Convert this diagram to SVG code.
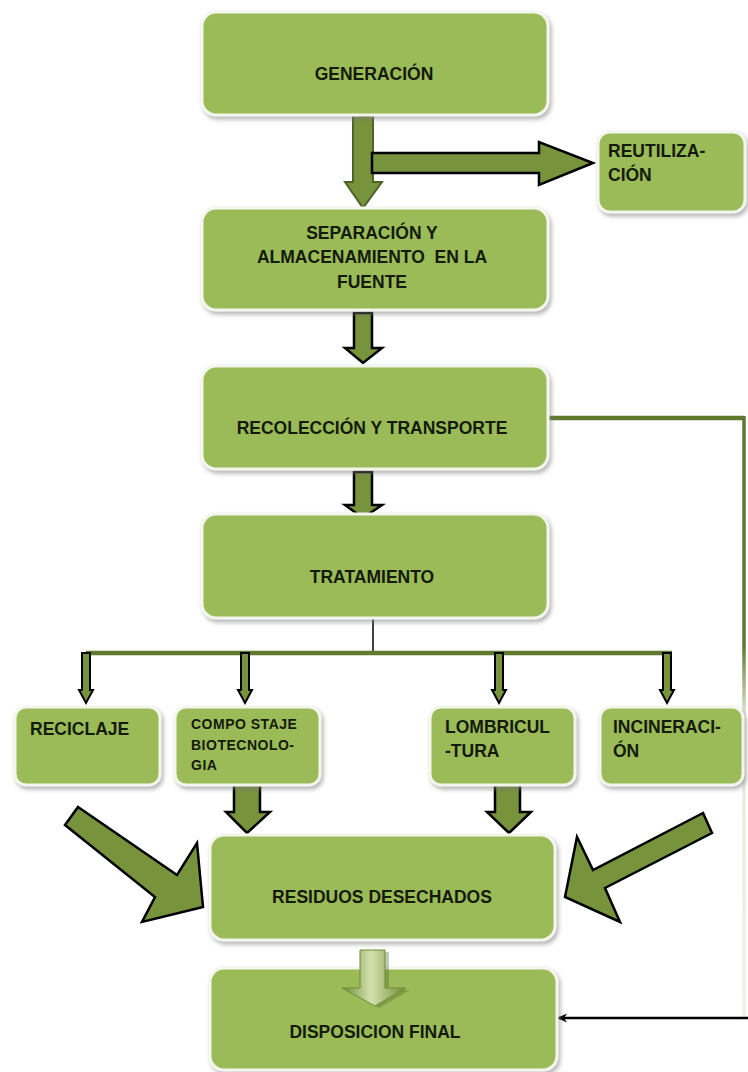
<svg xmlns="http://www.w3.org/2000/svg" width="748" height="1072" viewBox="0 0 748 1072">
<defs>
<style>
.box{fill:#9BBB59;stroke:#f4f6ee;stroke-width:3;filter:url(#sh)}
.t{font-family:"Liberation Sans",Arial,sans-serif;font-weight:bold;font-size:17.5px;fill:#141a0c}
.ts{font-family:"Liberation Sans",Arial,sans-serif;font-weight:bold;font-size:14px;letter-spacing:0.5px;fill:#141a0c}
.c{text-anchor:middle}
.ba{fill:#77933C;stroke:#000;stroke-width:2.5;stroke-linejoin:miter}
.ga{fill:#77933C;stroke:#4F6228;stroke-width:2}
.sa{fill:#77933C;stroke:#000;stroke-width:2}
</style>
<filter id="sh" x="-10%" y="-10%" width="125%" height="130%">
<feDropShadow dx="2" dy="3" stdDeviation="2" flood-color="#7a7a7a" flood-opacity="0.55"/>
</filter>
<linearGradient id="vg" gradientUnits="userSpaceOnUse" x1="0" y1="418" x2="0" y2="1018">
<stop offset="0" stop-color="#5f7a2e"/>
<stop offset="0.38" stop-color="#5f7a2e"/>
<stop offset="0.5" stop-color="#e6ebdc"/>
<stop offset="1" stop-color="#eef1e8"/>
</linearGradient>
<linearGradient id="ag" x1="0" y1="0" x2="1" y2="0">
<stop offset="0" stop-color="#6f8b34"/>
<stop offset="0.45" stop-color="#d3e2b0"/>
<stop offset="1" stop-color="#6f8b34"/>
</linearGradient>
<marker id="bh" markerWidth="10" markerHeight="10" refX="9" refY="5" orient="auto" markerUnits="userSpaceOnUse">
<path d="M10,5 L0,0.5 L3,5 L0,9.5 Z" fill="#000"/>
</marker>
</defs>

<g id="connectors">
<polygon class="ga" points="353,116 373,116 373,182 382,182 363,208 345,182 353,182"/>
<polygon class="ba" points="372,153 539,153 539,142 593,163 539,185 539,173 372,173"/>
<polygon class="ba" points="354,313 372,313 372,348 382,348 363,363 345,348 354,348"/>
<polygon class="ba" points="354,472 372,472 372,505 382,505 363,518 345,505 354,505"/>
<line x1="373" y1="618" x2="373" y2="653" stroke="#000" stroke-width="1.5"/>
<line x1="86" y1="653" x2="672" y2="653" stroke="#5f7a2e" stroke-width="4.5"/>
<polygon class="sa" points="82,653 90,653 90,690 93,690 86,703 79,690 82,690"/>
<polygon class="sa" points="241,653 249,653 249,690 252,690 245,703 238,690 241,690"/>
<polygon class="sa" points="495,653 503,653 503,690 506,690 499,703 492,690 495,690"/>
<polygon class="sa" points="663,653 671,653 671,690 674,690 667,703 660,690 663,690"/>
<polygon class="ba" points="234,785 260,785 260,812 270,812 247,833 226,812 234,812"/>
<polygon class="ba" points="495,785 520,785 520,812 531,812 509,833 487,812 495,812"/>
<polygon class="ba" points="78,807 177,875 197,843 203,907 142,922 155,897 65,825"/>
<polygon class="ba" points="703,813 593,870 577,837 565,897 620,922 605,888 712,833"/>
<polyline points="548,418 744,418" fill="none" stroke="#5f7a2e" stroke-width="4.5"/>
<line x1="744" y1="416" x2="744" y2="1018" stroke="url(#vg)" stroke-width="3.5"/>
<line x1="748" y1="1018" x2="558" y2="1018" stroke="#000" stroke-width="2.5" marker-end="url(#bh)"/>
</g>

<g id="n-generacion">
<rect class="box" x="202" y="12" width="346" height="103" rx="14"/>
<text class="t c" x="374" y="80">GENERACIÓN</text>
</g>
<g id="n-reutilizacion">
<rect class="box" x="598" y="132" width="147" height="80" rx="12"/>
<text class="t" x="608" y="157">REUTILIZA-</text>
<text class="t" x="608" y="181">CIÓN</text>
</g>
<g id="n-separacion">
<rect class="box" x="202" y="208" width="346" height="102" rx="14"/>
<text class="t c" x="372" y="239">SEPARACIÓN Y</text>
<text class="t c" x="372" y="263" xml:space="preserve">ALMACENAMIENTO  EN LA</text>
<text class="t c" x="372" y="288">FUENTE</text>
</g>
<g id="n-recoleccion">
<rect class="box" x="202" y="366" width="346" height="103" rx="14"/>
<text class="t c" x="372" y="434">RECOLECCIÓN Y TRANSPORTE</text>
</g>
<g id="n-tratamiento">
<rect class="box" x="202" y="514" width="346" height="104" rx="14"/>
<text class="t c" x="372" y="583">TRATAMIENTO</text>
</g>
<g id="n-reciclaje">
<rect class="box" x="15" y="707" width="145" height="78" rx="11"/>
<text class="t" x="30" y="735">RECICLAJE</text>
</g>
<g id="n-compostaje">
<rect class="box" x="175" y="707" width="145" height="78" rx="11"/>
<text class="ts" x="191" y="729" xml:space="preserve">COMPO STAJE</text>
<text class="ts" x="191" y="750">BIOTECNOLO-</text>
<text class="ts" x="191" y="770">GIA</text>
</g>
<g id="n-lombricultura">
<rect class="box" x="430" y="707" width="145" height="78" rx="11"/>
<text class="t" x="445" y="733">LOMBRICUL</text>
<text class="t" x="445" y="757">-TURA</text>
</g>
<g id="n-incineracion">
<rect class="box" x="600" y="707" width="143" height="78" rx="11"/>
<text class="t" x="613" y="733">INCINERACI-</text>
<text class="t" x="613" y="757">ÓN</text>
</g>
<g id="n-residuos">
<rect class="box" x="210" y="835" width="345" height="105" rx="14"/>
<text class="t c" x="382" y="903">RESIDUOS DESECHADOS</text>
</g>
<g id="n-disposicion">
<rect class="box" x="210" y="968" width="347" height="102" rx="14"/>
<text class="t c" x="375" y="1038">DISPOSICION FINAL</text>
</g>
<g id="arrow-final">
<polygon points="364,952 389,952 389,990 410,990 379,1008 346,990 364,990" fill="#4F6228" opacity="0.35"/>
<polygon points="360,950 385,950 385,988 406,988 375,1006 342,988 360,988" fill="url(#ag)" stroke="#6f8b34" stroke-width="1"/>
</g>
</svg>
